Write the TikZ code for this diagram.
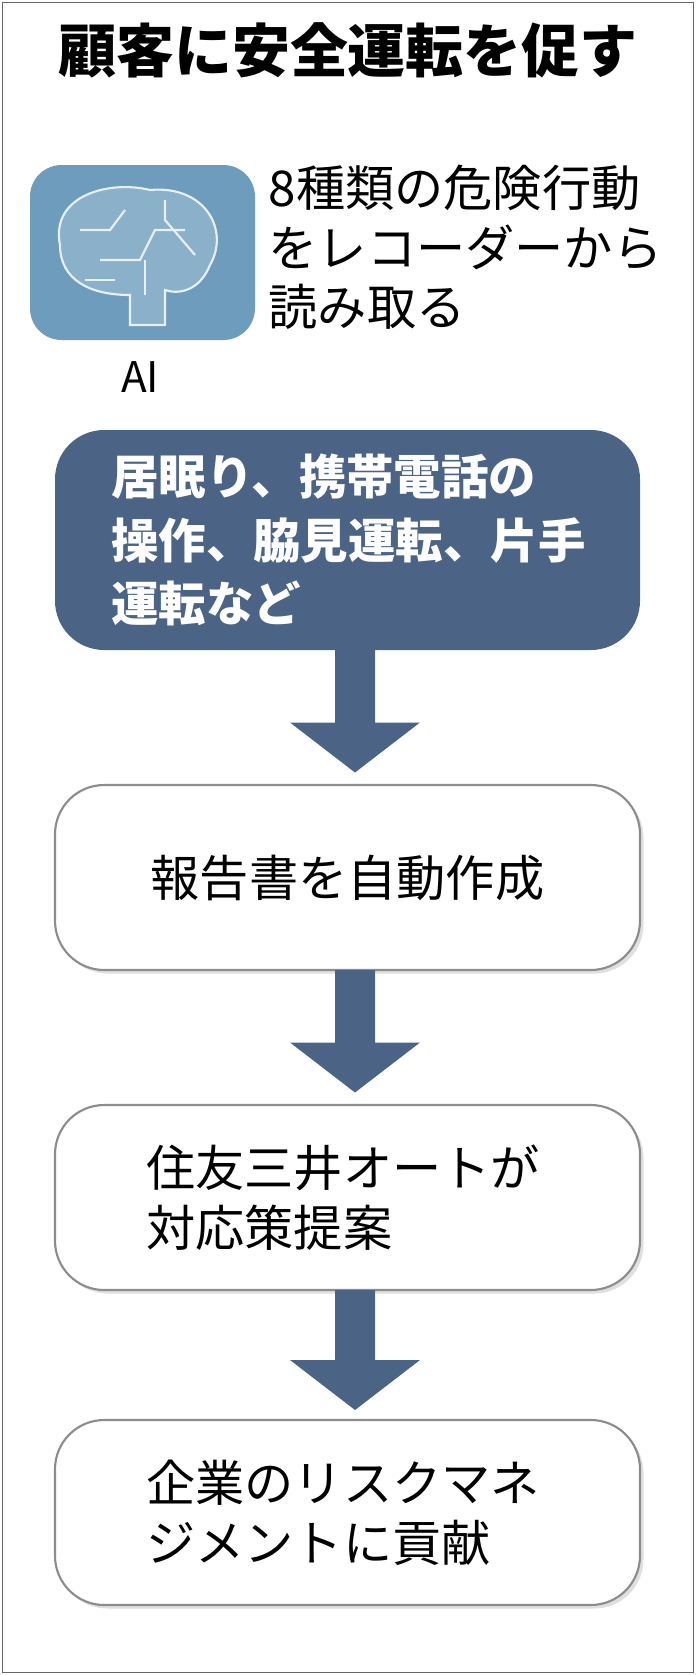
\documentclass[tikz,border=0pt]{standalone}
\usepackage{fontspec}
\setmainfont{Noto Sans CJK JP}
\usetikzlibrary{shadows,positioning}
\definecolor{navy}{HTML}{4B6384}
\definecolor{brainbg}{HTML}{6E9CBC}
\tikzset{
  stepbox/.style={draw=black!45, line width=1.2pt, rounded corners=28, fill=white,
    minimum width=11.7cm, minimum height=3.7cm, drop shadow={opacity=0.25,shadow xshift=2pt,shadow yshift=-2pt}},
  darkbox/.style={fill=navy, rounded corners=28, minimum width=11.7cm, minimum height=4.4cm},
  boxtext/.style={font=\fontsize{28}{34}\selectfont, align=left, anchor=west},
  flow/.style={fill=navy}
}
\newcommand{\flowarrow}[3]{% x-centre, top y, bottom y
  \fill[flow] (#1-0.4,#2) -- (#1+0.4,#2) -- (#1+0.4,#3+1.0) -- (#1+1.3,#3+1.0)
    -- (#1,#3) -- (#1-1.3,#3+1.0) -- (#1-0.4,#3+1.0) -- cycle;}
\begin{document}
\begin{tikzpicture}
	\useasboundingbox (0,0) rectangle (13.92,-33.5);
	\draw[black!60, line width=1pt] (0.05,-0.05) rectangle (13.87,-33.45);
	\node (title) at (6.96,-1.0) {\fontsize{33}{40}\selectfont\bfseries 顧客に安全運転を促す};
	% brain icon
	\node[fill=brainbg, rounded corners=18, minimum width=4.5cm, minimum height=3.5cm] (icon) at (2.85,-5.05) {};
	\begin{scope}[draw=white!85!brainbg, line width=1.2pt]
		\draw[fill=brainbg!80!white] (1.2,-4.9) .. controls (1.0,-3.9) and (2.2,-3.6) .. (3.0,-3.8)
			.. controls (4.1,-3.7) and (4.6,-4.6) .. (4.2,-5.3)
			.. controls (4.0,-5.8) and (3.6,-5.9) .. (3.3,-5.8)
			-- (3.3,-6.5) -- (2.6,-6.5) -- (2.6,-5.9)
			.. controls (1.8,-5.9) and (1.2,-5.6) .. (1.2,-4.9);
		\draw (1.6,-4.6) -- (2.2,-4.6) -- (2.5,-4.2);
		\draw (2.0,-5.2) -- (2.8,-5.2) -- (3.1,-4.6) -- (3.7,-4.6);
		\draw (2.9,-5.9) -- (2.9,-5.2);
		\draw (3.3,-4.0) -- (3.3,-4.4) -- (3.9,-5.1);
		\draw (1.7,-5.6) -- (2.3,-5.6);
	\end{scope}
	\node (ai) at (2.8,-7.55) {\fontsize{24}{28}\selectfont AI};
	\node[boxtext] (read) at (5.25,-4.95) {8種類の危険行動\\をレコーダーから\\読み取る};
	% flow
	\node[darkbox] (act) at (6.95,-10.8) {};
	\node[boxtext, text=white, font=\fontsize{27}{36}\selectfont\bfseries] at (2.1,-10.8) {居眠り、携帯電話の\\操作、脇見運転、片手\\運転など};
	\node[stepbox] (rep) at (6.95,-17.55) {};
	\node[boxtext, anchor=center] at (rep) {報告書を自動作成};
	\node[stepbox] (plan) at (6.95,-23.95) {};
	\node[boxtext] at (2.8,-23.95) {住友三井オートが\\対応策提案};
	\node[stepbox] (risk) at (6.95,-30.25) {};
	\node[boxtext] at (2.8,-30.25) {企業のリスクマネ\\ジメントに貢献};
	\flowarrow{7.1}{-13.0}{-15.45}
	\flowarrow{7.1}{-19.4}{-21.85}
	\flowarrow{7.1}{-25.8}{-28.2}
\end{tikzpicture}
\end{document}
